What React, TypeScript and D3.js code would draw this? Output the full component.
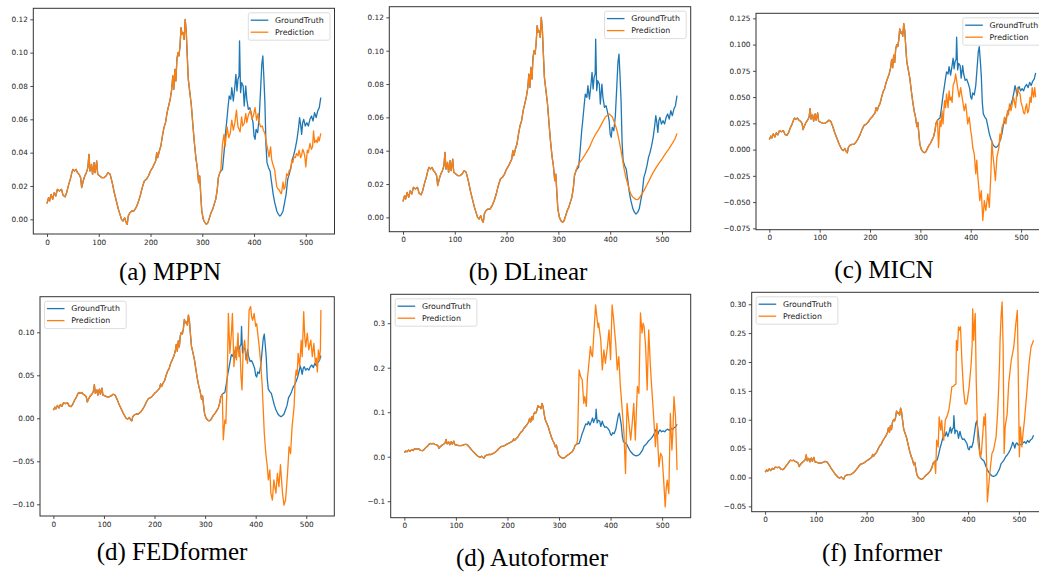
import React, { useEffect, useRef } from 'react';
import * as d3 from 'd3';

type Pt = [number, number];

// shared input window (GroundTruth == Prediction here)
const history: Pt[] = [
  [0, 0.0095], [3, 0.013], [5, 0.011], [8, 0.015], [11, 0.012], [14, 0.016], [17, 0.014], [20, 0.018],
  [24, 0.017], [28, 0.018], [31, 0.0145], [35, 0.0135], [38, 0.016], [42, 0.021], [45, 0.024], [48, 0.028],
  [50, 0.030], [53, 0.029], [56, 0.030], [59, 0.028], [62, 0.027], [65, 0.025], [67, 0.019], [70, 0.023],
  [73, 0.026], [76, 0.028], [79, 0.031], [81, 0.039], [83, 0.029], [86, 0.033], [88, 0.027], [91, 0.034],
  [93, 0.028], [96, 0.035], [98, 0.027], [102, 0.026], [106, 0.025], [110, 0.025], [114, 0.026], [118, 0.028],
  [122, 0.027], [126, 0.022], [130, 0.016], [134, 0.011], [138, 0.006], [141, 0.003], [144, 0.000], [147, -0.001],
  [150, 0.001], [153, -0.002], [155, -0.003], [157, 0.002], [160, 0.004], [164, 0.005], [168, 0.005], [172, 0.007],
  [176, 0.010], [180, 0.014], [184, 0.019], [188, 0.023], [192, 0.024], [196, 0.026], [200, 0.029], [204, 0.031],
  [207, 0.033], [210, 0.035], [212, 0.040], [214, 0.037], [217, 0.041], [220, 0.044], [223, 0.050], [226, 0.055],
  [229, 0.058], [232, 0.064], [235, 0.068], [238, 0.072], [241, 0.078], [243, 0.086], [245, 0.078], [247, 0.090],
  [249, 0.083], [251, 0.096], [253, 0.100], [255, 0.098], [257, 0.104], [259, 0.115], [261, 0.111], [263, 0.112],
  [265, 0.108], [267, 0.120], [269, 0.113], [271, 0.098], [273, 0.084], [276, 0.076], [279, 0.068], [282, 0.056],
  [285, 0.045], [288, 0.036], [290, 0.032], [293, 0.022], [295, 0.026], [297, 0.015], [299, 0.005], [302, 0.000],
  [305, -0.002], [308, -0.003], [311, -0.002], [314, 0.001], [317, 0.004], [320, 0.006], [323, 0.009], [326, 0.012],
  [329, 0.018], [331, 0.025], [334, 0.028],
];

const truthFuture: Pt[] = [
  [336, 0.029], [339, 0.030], [342, 0.040], [345, 0.052], [347, 0.058], [350, 0.068], [352, 0.074], [355, 0.072],
  [357, 0.079], [360, 0.071], [363, 0.080], [365, 0.087], [367, 0.077], [369, 0.084], [371, 0.086], [372, 0.107],
  [374, 0.076], [376, 0.082], [379, 0.080], [381, 0.068], [384, 0.080], [386, 0.072], [389, 0.066], [392, 0.067],
  [395, 0.063], [398, 0.058], [400, 0.050], [402, 0.048], [404, 0.054], [407, 0.052], [410, 0.061], [413, 0.080],
  [415, 0.093], [417, 0.098], [419, 0.085], [421, 0.070], [423, 0.045], [425, 0.034], [428, 0.031], [431, 0.029],
  [434, 0.022], [437, 0.015], [440, 0.010], [444, 0.005], [447, 0.003], [450, 0.002], [453, 0.003], [456, 0.005],
  [459, 0.010], [462, 0.015], [465, 0.024], [468, 0.027], [471, 0.031], [474, 0.036], [477, 0.039], [480, 0.043],
  [483, 0.048], [486, 0.055], [488, 0.061], [490, 0.057], [492, 0.051], [494, 0.058], [496, 0.060], [499, 0.056],
  [502, 0.058], [505, 0.056], [508, 0.060], [511, 0.062], [514, 0.059], [517, 0.064], [520, 0.061], [523, 0.065],
  [526, 0.067], [529, 0.073],
];

const predMPPN: Pt[] = [
  [336, 0.030], [339, 0.045], [342, 0.051], [344, 0.0435], [348, 0.0555], [351, 0.049], [354, 0.0515], [357, 0.0595],
  [360, 0.0535], [363, 0.058], [366, 0.0655], [369, 0.0555], [373, 0.0525], [376, 0.0615], [378, 0.056], [381, 0.0575],
  [384, 0.0635], [386, 0.058], [389, 0.0625], [393, 0.0655], [396, 0.060], [399, 0.0625], [402, 0.067], [405, 0.0595],
  [408, 0.0635], [410, 0.058], [413, 0.0555], [416, 0.056], [418, 0.0535], [421, 0.0515], [424, 0.0455], [427, 0.041],
  [429, 0.0375], [432, 0.0435], [434, 0.036], [436, 0.0335], [440, 0.0294], [442, 0.024], [444, 0.0194], [447, 0.018],
  [449, 0.0174], [451, 0.016], [453, 0.0154], [456, 0.0224], [458, 0.018], [460, 0.0194], [463, 0.0274], [466, 0.026],
  [468, 0.0294], [471, 0.030], [473, 0.0355], [475, 0.034], [477, 0.0375], [480, 0.037], [482, 0.0395], [485, 0.038],
  [487, 0.0415], [490, 0.037], [492, 0.0385], [494, 0.042], [496, 0.0405], [498, 0.038], [500, 0.0315], [503, 0.0415],
  [505, 0.040], [508, 0.0455], [511, 0.042], [513, 0.0435], [515, 0.053], [517, 0.046], [520, 0.0475], [522, 0.046],
  [524, 0.0495], [526, 0.047], [529, 0.0515],
];

const predDLinear: Pt[] = [
  [336, 0.030], [340, 0.0324], [346, 0.035], [353, 0.0384], [360, 0.042], [366, 0.0464], [372, 0.050], [379, 0.0534],
  [385, 0.057], [391, 0.0604], [398, 0.062], [404, 0.0604], [408, 0.057], [411, 0.0544], [414, 0.051], [417, 0.0464],
  [421, 0.040], [424, 0.0344], [427, 0.029], [430, 0.0244], [434, 0.020], [437, 0.0164], [440, 0.014], [443, 0.0124],
  [449, 0.0108], [453, 0.0106], [456, 0.0114], [459, 0.013], [462, 0.0144], [466, 0.0165], [469, 0.0184], [475, 0.022],
  [482, 0.0264], [488, 0.0295], [494, 0.0324], [500, 0.035], [507, 0.0384], [513, 0.041], [520, 0.0444], [525, 0.047],
  [529, 0.0504],
];

const predMICN: Pt[] = [
  [336, 0.002], [339, 0.0276], [341, 0.022], [343, 0.037], [345, 0.0244], [348, 0.0467], [350, 0.040], [352, 0.053],
  [355, 0.040], [357, 0.056], [359, 0.047], [361, 0.050], [363, 0.045], [365, 0.061], [368, 0.065], [370, 0.072],
  [372, 0.066], [374, 0.059], [377, 0.050], [380, 0.059], [382, 0.052], [384, 0.0467], [387, 0.037], [390, 0.0435],
  [392, 0.035], [394, 0.0244], [397, 0.031], [400, 0.018], [402, 0.012], [404, 0.002], [407, -0.004], [410, -0.023],
  [412, -0.010], [414, -0.025], [416, -0.036], [418, -0.0486], [421, -0.039], [424, -0.0676], [427, -0.0486], [430, -0.058],
  [432, -0.050], [434, -0.0422], [437, -0.055], [440, -0.023], [442, 0.0086], [444, -0.005], [446, -0.0137], [449, -0.0295],
  [452, -0.0073], [456, 0.002], [458, 0.015], [460, 0.010], [462, 0.021], [465, 0.025], [467, 0.031], [470, 0.0244],
  [473, 0.037], [475, 0.033], [477, 0.0435], [480, 0.037], [482, 0.042], [485, 0.050], [487, 0.045], [489, 0.040],
  [491, 0.052], [493, 0.059], [495, 0.055], [498, 0.053], [500, 0.045], [503, 0.040], [505, 0.035], [507, 0.034],
  [509, 0.040], [511, 0.0435], [513, 0.035], [515, 0.037], [518, 0.050], [520, 0.045], [522, 0.059], [524, 0.052],
  [525, 0.050], [527, 0.059], [529, 0.050],
];

const predFEDformer: Pt[] = [
  [336, -0.025], [339, -0.002], [341, -0.006], [344, 0.052], [346, 0.122], [349, 0.0756], [352, 0.099], [354, 0.122],
  [357, 0.060], [360, 0.083], [362, 0.068], [365, 0.099], [367, 0.0717], [369, 0.080], [371, 0.0484], [373, 0.033],
  [375, 0.0756], [378, 0.091], [381, 0.0717], [384, 0.064], [387, 0.126], [390, 0.130], [392, 0.118], [394, 0.114],
  [397, 0.122], [400, 0.107], [402, 0.110], [404, 0.099], [407, 0.083], [410, 0.064], [413, 0.037], [415, 0.010],
  [417, -0.017], [420, -0.041], [423, -0.056], [425, -0.0717], [428, -0.060], [430, -0.087], [433, -0.095], [436, -0.0717],
  [438, -0.080], [440, -0.087], [443, -0.064], [446, -0.0795], [449, -0.054], [451, -0.070], [453, -0.087], [456, -0.101],
  [459, -0.095], [461, -0.080], [463, -0.064], [466, -0.033], [469, -0.041], [472, -0.0097], [476, 0.0136], [478, 0.0446],
  [480, 0.056], [482, 0.050], [484, 0.0756], [487, 0.060], [490, 0.091], [492, 0.0717], [495, 0.124], [497, 0.095],
  [499, 0.083], [502, 0.099], [505, 0.0795], [507, 0.085], [509, 0.091], [512, 0.0717], [515, 0.087], [518, 0.064],
  [520, 0.070], [522, 0.054], [524, 0.0795], [526, 0.068], [528, 0.080], [529, 0.126],
];

const predAutoformer: Pt[] = [
  [336, 0.0375], [339, 0.195], [342, 0.180], [345, 0.173], [348, 0.120], [350, 0.135], [353, 0.113], [355, 0.173],
  [358, 0.210], [361, 0.248], [363, 0.230], [365, 0.225], [368, 0.285], [371, 0.341], [374, 0.308], [376, 0.290],
  [377, 0.300], [379, 0.280], [381, 0.263], [384, 0.195], [387, 0.240], [390, 0.210], [392, 0.230], [394, 0.248],
  [397, 0.285], [400, 0.218], [403, 0.341], [406, 0.308], [408, 0.280], [410, 0.255], [413, 0.195], [416, 0.225],
  [419, 0.158], [421, 0.130], [423, 0.0976], [426, 0.0525], [429, -0.0375], [432, 0.120], [435, 0.0826], [437, 0.060],
  [439, 0.0375], [442, 0.075], [445, 0.120], [448, 0.0375], [450, 0.100], [452, 0.158], [455, 0.1426], [458, 0.323],
  [461, 0.278], [463, 0.300], [465, 0.293], [468, 0.248], [471, 0.150], [474, 0.285], [477, 0.210], [479, 0.170],
  [481, 0.135], [484, 0.0826], [487, 0.0225], [490, 0.075], [492, 0.020], [494, -0.0225], [497, 0.0075], [500, 0.0],
  [503, -0.0525], [506, -0.1126], [508, -0.070], [510, -0.0525], [513, -0.0826], [516, 0.0976], [519, 0.015], [521, 0.060],
  [523, 0.135], [526, 0.090], [529, -0.030],
];

const predInformer: Pt[] = [
  [336, 0.007], [338, 0.0646], [341, 0.053], [343, 0.105], [346, 0.082], [348, 0.099], [350, 0.075], [352, 0.0646],
  [355, 0.099], [358, 0.105], [362, 0.1165], [365, 0.135], [368, 0.157], [371, 0.158], [373, 0.160], [376, 0.162],
  [377, 0.2376], [379, 0.220], [381, 0.261], [383, 0.255], [385, 0.261], [388, 0.197], [391, 0.151], [394, 0.128],
  [396, 0.127], [398, 0.131], [402, 0.157], [406, 0.197], [408, 0.230], [409, 0.292], [411, 0.2376], [412, 0.260],
  [414, 0.284], [416, 0.168], [419, 0.0646], [422, 0.047], [424, 0.035], [426, 0.0415], [429, 0.076], [431, 0.105],
  [433, 0.090], [434, 0.1107], [436, 0.0415], [438, -0.042], [441, -0.0104], [444, 0.0185], [447, 0.0415], [450, 0.047],
  [455, 0.070], [458, 0.110], [460, 0.151], [462, 0.200], [463, 0.2376], [465, 0.280], [467, 0.304], [469, 0.226],
  [471, 0.0415], [473, 0.0877], [477, 0.1107], [480, 0.163], [485, 0.203], [490, 0.226], [494, 0.266], [497, 0.2895],
  [499, 0.168], [501, 0.0358], [503, 0.0877], [506, 0.053], [508, 0.075], [511, 0.099], [516, 0.151], [520, 0.197],
  [524, 0.226], [527, 0.233], [529, 0.2376],
];

const seriesNames = ['GroundTruth', 'Prediction'];
const xTicks = [0, 100, 200, 300, 400, 500];
const yTicksSmall = [0, 0.02, 0.04, 0.06, 0.08, 0.1, 0.12];
const yTicksMICN = [-0.075, -0.05, -0.025, 0, 0.025, 0.05, 0.075, 0.1, 0.125];
const yTicksFED = [-0.1, -0.05, 0, 0.05, 0.1];
const yTicksAuto = [-0.1, 0, 0.1, 0.2, 0.3];
const yTicksInf = [-0.05, 0, 0.05, 0.1, 0.15, 0.2, 0.25, 0.3];

const BLUE = '#1f77b4';
const ORANGE = '#ff7f0e';
const X_DOMAIN: [number, number] = [-26.45, 555.45];

const panels = [
  { caption: '(a) MPPN', pred: predMPPN, yTicks: yTicksSmall, fmt: '.2f', yDomain: [-0.0088, 0.1266],
    frame: [33.3, 334.5, 8.3, 234], legend: 'right', cap: [170, 280] },
  { caption: '(b) DLinear', pred: predDLinear, yTicks: yTicksSmall, fmt: '.2f', yDomain: [-0.0086, 0.1264],
    frame: [389.3, 690.7, 6.7, 231.7], legend: 'right', cap: [528, 280] },
  { caption: '(c) MICN', pred: predMICN, yTicks: yTicksMICN, fmt: '.3f', yDomain: [-0.0763, 0.1298],
    frame: [756, 1049, 13.3, 229.7], legend: 'right', cap: [884, 278] },
  { caption: '(d) FEDformer', pred: predFEDformer, yTicks: yTicksFED, fmt: '.2f', yDomain: [-0.1136, 0.1414],
    frame: [40, 334.3, 296.7, 516], legend: 'left', cap: [172, 560] },
  { caption: '(d) Autoformer', pred: predAutoformer, yTicks: yTicksAuto, fmt: '.1f', yDomain: [-0.137, 0.365],
    frame: [390.7, 690.7, 294.3, 517.7], legend: 'left', cap: [532, 566] },
  { caption: '(f) Informer', pred: predInformer, yTicks: yTicksInf, fmt: '.2f', yDomain: [-0.0592, 0.3207],
    frame: [751.7, 1047, 292.3, 511.7], legend: 'left', cap: [882, 561] },
];

const App = () => {
  const svgRef = useRef<SVGSVGElement>(null);

  useEffect(() => {
    const svg = d3.select(svgRef.current);
    svg.selectAll('*').remove();
    const truth = history.concat(truthFuture);

    panels.forEach((p, i) => {
      const [x0, x1, y0, y1] = p.frame;
      const x = d3.scaleLinear().domain(X_DOMAIN).range([x0, x1]);
      const y = d3.scaleLinear().domain(p.yDomain).range([y1, y0]);
      const g = svg.append('g');

      svg.append('clipPath').attr('id', 'clip' + i)
        .append('rect').attr('x', x0).attr('y', y0).attr('width', x1 - x0).attr('height', y1 - y0);

      const line = d3.line<Pt>().x(d => x(d[0])).y(d => y(d[1]));
      const plot = g.append('g').attr('clip-path', `url(#clip${i})`);
      plot.append('path').datum(truth).attr('d', line)
        .attr('fill', 'none').attr('stroke', BLUE).attr('stroke-width', 1.3).attr('stroke-linejoin', 'round');
      plot.append('path').datum(history.concat(p.pred)).attr('d', line)
        .attr('fill', 'none').attr('stroke', ORANGE).attr('stroke-width', 1.3).attr('stroke-linejoin', 'round');

      const xAxis = d3.axisBottom(x).tickValues(xTicks).tickSize(3).tickPadding(2.5).tickFormat(d3.format('d'));
      const yAxis = d3.axisLeft(y).tickValues(p.yTicks).tickSize(3).tickPadding(2.5).tickFormat(d3.format(p.fmt));
      const gx = g.append('g').attr('transform', `translate(0,${y1})`).call(xAxis);
      const gy = g.append('g').attr('transform', `translate(${x0},0)`).call(yAxis);
      [gx, gy].forEach(a => {
        a.select('.domain').remove();
        a.selectAll('line').attr('stroke', '#222').attr('stroke-width', 0.8);
        a.selectAll('text').attr('fill', '#222').style('font-size', '7.3px').style('font-family', 'DejaVu Sans');
      });

      g.append('rect').attr('x', x0).attr('y', y0).attr('width', x1 - x0).attr('height', y1 - y0)
        .attr('fill', 'none').attr('stroke', '#333').attr('stroke-width', 1);

      // legend
      const lw = 81.7, lh = 27.4;
      const lx = p.legend === 'right' ? x1 - 4.5 - lw : x0 + 4.5;
      const ly = y0 + 4.5;
      const lg = g.append('g').attr('transform', `translate(${lx},${ly})`);
      lg.append('rect').attr('width', lw).attr('height', lh).attr('rx', 2)
        .attr('fill', 'white').attr('fill-opacity', 0.8).attr('stroke', '#d4d4d4').attr('stroke-width', 0.8);
      seriesNames.forEach((name, k) => {
        const cy = 7.4 + k * 12;
        lg.append('line').attr('x1', 2.4).attr('x2', 20).attr('y1', cy).attr('y2', cy)
          .attr('stroke', k === 0 ? BLUE : ORANGE).attr('stroke-width', 1.3);
        lg.append('text').attr('x', 26.7).attr('y', cy).attr('dominant-baseline', 'central')
          .attr('fill', '#222').style('font-size', '7.85px').style('font-family', 'DejaVu Sans').text(name);
      });

      svg.append('text').attr('x', p.cap[0]).attr('y', p.cap[1]).attr('text-anchor', 'middle')
        .attr('fill', '#000').style('font-size', '25px').style('font-family', 'Liberation Serif')
        .text(p.caption);
    });
  }, []);

  return (
    <svg ref={svgRef} width={1039} height={573}
      style={{ position: 'absolute', left: 0, top: 0, background: 'white' }}></svg>
  );
};

export default App;
